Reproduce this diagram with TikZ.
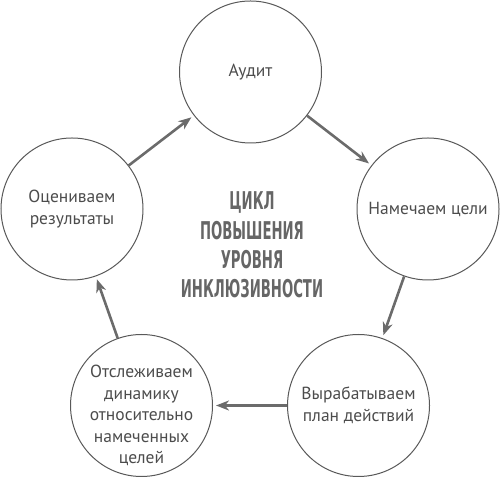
\documentclass[tikz,border=0pt]{standalone}
\usepackage{fontspec}
\setmainfont{PT Sans}
\newfontfamily\titlefont[FakeStretch=0.54]{DejaVu Sans}
\usepackage{tikz}
\usetikzlibrary{arrows.meta, positioning}
\definecolor{circlegray}{rgb}{0.35, 0.35, 0.35}
\definecolor{arrowgray}{rgb}{0.42, 0.42, 0.42}
\definecolor{textgray}{rgb}{0.3, 0.3, 0.3}
\definecolor{titlegray}{rgb}{0.4, 0.4, 0.4}

\begin{document}
\begin{tikzpicture}[x=1pt, y=1pt,
		stage/.style={circle, draw=circlegray, line width=1pt, minimum size=142pt, inner sep=0pt},
		stagetext/.style={align=center, text=textgray, font=\fontsize{17.5}{21.5}\selectfont},
		flow/.style={-{Stealth[length=13pt, width=10pt, inset=4pt]}, draw=arrowgray, line width=2.6pt, shorten >=3pt}]
		\useasboundingbox (0,0) rectangle (500,478);
		% stages of the cycle
		\node[stage, stagetext] (audit) at (250.5,406) {Аудит};
		\node[stage, stagetext] (goals) at (428,269) {Намечаем цели};
		\node[stage, stagetext] (plan) at (358.5,72.5) {Вырабатываем\\план действий};
		\node[stage] (track) at (141.5,72.5) {};
		\node[stagetext] (tracktext) at ([yshift=-10pt]track.center) {Отслеживаем\\динамику\\относительно\\намеченных\\целей};
		\node[stage, stagetext] (assess) at (72,269) {Оцениваем\\результаты};
		% title in the middle
		\node[align=center, text=titlegray, font=\titlefont\bfseries\fontsize{24.5}{29.3}\selectfont] (cycle) at (252,233) {ЦИКЛ\\ПОВЫШЕНИЯ\\УРОВНЯ\\ИНКЛЮЗИВНОСТИ};
		% arrows round the cycle
		\draw[flow] (assess) -- (audit);
		\draw[flow] (audit) -- (goals);
		\draw[flow] (goals) -- (plan);
		\draw[flow] (plan) -- (track);
		\draw[flow] (track) -- (assess);
	\end{tikzpicture}
\end{document}
